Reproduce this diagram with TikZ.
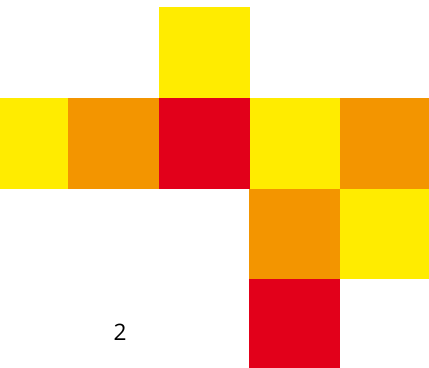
\documentclass[tikz,border=0pt]{standalone}
\usepackage{fontspec}
\setmainfont{Open Sans}
\definecolor{cyel}{HTML}{FFEC00}
\definecolor{cora}{HTML}{F39500}
\definecolor{cred}{HTML}{E2001A}
\begin{document}
\begin{tikzpicture}[x=0.75pt,y=-0.75pt]
\useasboundingbox (0,0) rectangle (429,368);
\tikzset{cell/.style={fill=#1, draw=none}}
% top
\fill[cyel] (159,7) rectangle (250,98.5);
% row 2
\fill[cyel] (0,98) rectangle (68.5,189);
\fill[cora] (68,98) rectangle (159.5,189);
\fill[cred] (159,98) rectangle (250.5,189);
\fill[cyel] (250,98) rectangle (340.5,189);
\fill[cora] (340,98) rectangle (429,189);
% row 3
\fill[cora] (249,188.5) rectangle (340.5,279);
\fill[cyel] (340,188.5) rectangle (429,279);
% row 4
\fill[cred] (249,278.5) rectangle (340,368);
\node[font=\fontsize{17}{20}\selectfont, inner sep=0pt] (two) at (120,332) {2};
\end{tikzpicture}
\end{document}
